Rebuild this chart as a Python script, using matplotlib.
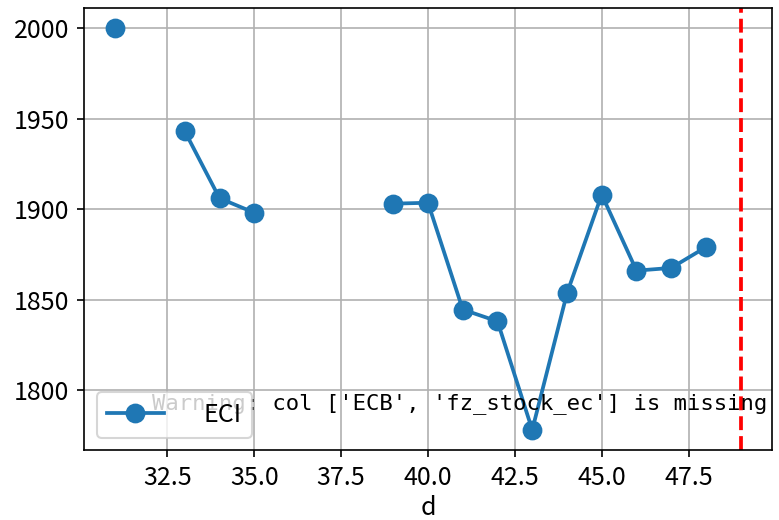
import numpy as np
import matplotlib
matplotlib.use("Agg")
import matplotlib.pyplot as plt

plt.rcParams["font.family"] = ["Noto Sans CJK SC", "DejaVu Sans"]
plt.rcParams["axes.unicode_minus"] = False

# ── data ──────────────────────────────────────────────────────────────────
d = [31, 32, 33, 34, 35, 36, 37, 38, 39, 40, 41, 42, 43, 44, 45, 46, 47, 48]
eci = [2000, np.nan, 1943, 1906, 1898, np.nan, np.nan, np.nan, 1903, 1903.5,
       1844.5, 1838, 1778, 1853.5, 1908, 1866, 1867.5, 1879]
cutoff = 49
warn_msg = "Warning: col ['ECB', 'fz_stock_ec'] is missing"

fig, ax = plt.subplots(figsize=(779 / 150, 520 / 150), dpi=150)
ax.plot(d, eci, "-o", color="#1f77b4", lw=1.8, ms=8.5, label="ECI")
ax.axvline(cutoff, color="r", ls="--", lw=1.8)
ax.text(0.993, 0.105, warn_msg, transform=ax.transAxes, ha="right", va="center",
        fontsize=10.7, family=["DejaVu Sans Mono"])
ax.grid(True)
ax.set_xlabel("d", fontsize=12, labelpad=2)
ax.tick_params(labelsize=12)
ax.legend(loc="lower left", fontsize=12, handletextpad=1.6, handlelength=2.3)

fig.subplots_adjust(left=84 / 779, right=772 / 779, top=1 - 8 / 520, bottom=1 - 450 / 520)
fig.savefig("out.png", dpi=150)
